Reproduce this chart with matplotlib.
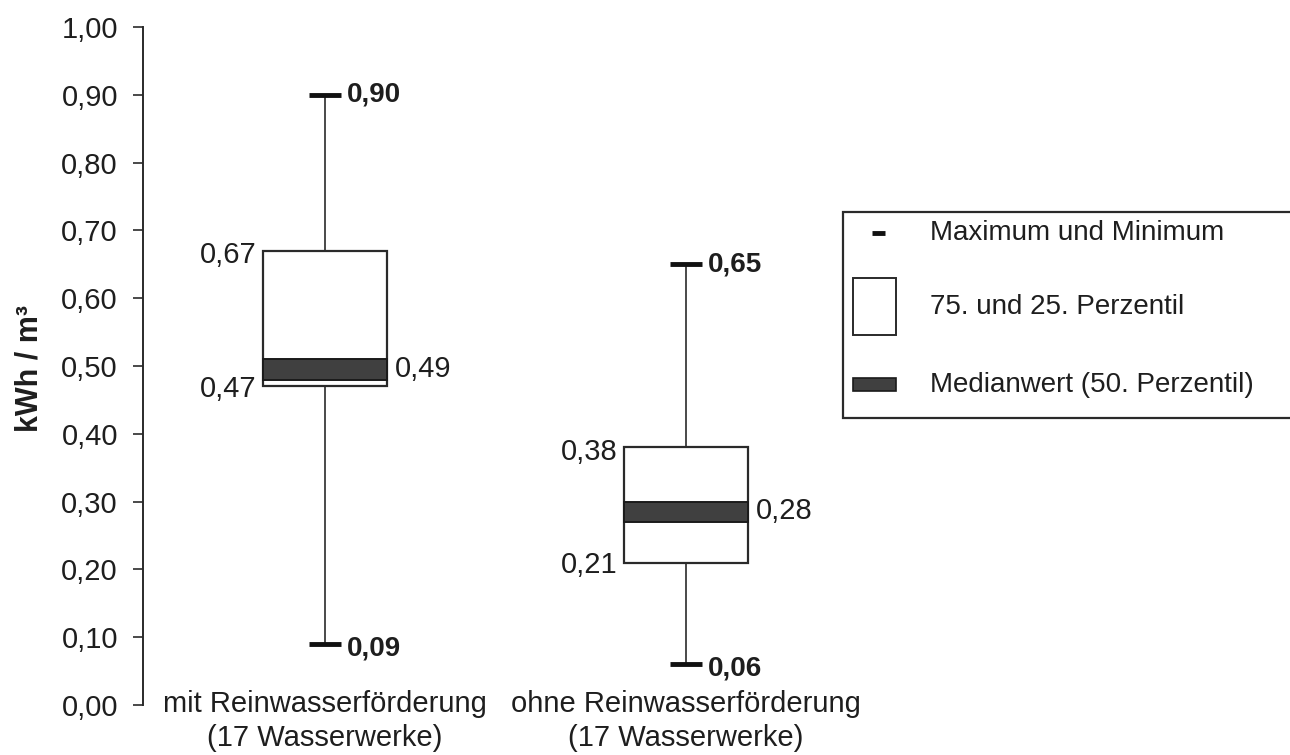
import numpy as np
import matplotlib
matplotlib.use("Agg")
import matplotlib.pyplot as plt
from matplotlib.patches import Rectangle
from matplotlib.lines import Line2D

plt.rcParams['font.family'] = ['Liberation Sans', 'DejaVu Sans']

# data (kWh / m3)
categories = ['mit Reinwasserförderung\n(17 Wasserwerke)',
              'ohne Reinwasserförderung\n(17 Wasserwerke)']
v_max = [0.90, 0.65]
v_q3 = [0.67, 0.38]
v_med = [0.49, 0.28]
v_q1 = [0.47, 0.21]
v_min = [0.09, 0.06]
y_ticks = [0.0, 0.1, 0.2, 0.3, 0.4, 0.5, 0.6, 0.7, 0.8, 0.9, 1.0]

W, H = 1290, 755
TXT = '#1e1e1e'
EDGE = '#2a2a2a'
FS = 21

def fmt(v):
	return f'{v:.2f}'.replace('.', ',')

fig = plt.figure(figsize=(W / 100, H / 100), dpi=100)
ax = fig.add_axes([143 / W, 50 / H, (1277 - 143) / W, (705 - 27) / H])

pos = np.arange(1, len(categories) + 1)
box_w = 0.343
cap_w = 0.089
band = 0.03

for i, x in enumerate(pos):
	# whiskers
	ax.plot([x, x], [v_q3[i], v_max[i]], color=EDGE, lw=1.2, zorder=1)
	ax.plot([x, x], [v_min[i], v_q1[i]], color=EDGE, lw=1.2, zorder=1)
	# caps
	ax.plot([x - cap_w / 2, x + cap_w / 2], [v_max[i]] * 2, color='#111111', lw=3.5, solid_capstyle='butt')
	ax.plot([x - cap_w / 2, x + cap_w / 2], [v_min[i]] * 2, color='#111111', lw=3.5, solid_capstyle='butt')
	# box
	ax.bar(x, v_q3[i] - v_q1[i], bottom=v_q1[i], width=box_w, color='white',
		edgecolor=EDGE, linewidth=1.6, zorder=2)
	# median band
	ax.bar(x, band, bottom=v_med[i] - band / 2 + 0.005, width=box_w, color='#404040',
		edgecolor='#1a1a1a', linewidth=1.4, zorder=3)

	# value labels
	ax.annotate(fmt(v_max[i]), (x + cap_w / 2, v_max[i]), xytext=(4, 0), textcoords='offset points',
		ha='left', va='center', fontsize=FS - 1, fontweight='bold', color=TXT)
	ax.annotate(fmt(v_min[i]), (x + cap_w / 2, v_min[i]), xytext=(4, -3), textcoords='offset points',
		ha='left', va='center', fontsize=FS - 1, fontweight='bold', color=TXT)
	ax.annotate(fmt(v_q3[i]), (x - box_w / 2, v_q3[i]), xytext=(-5, -3), textcoords='offset points',
		ha='right', va='center', fontsize=FS, color=TXT)
	ax.annotate(fmt(v_q1[i]), (x - box_w / 2, v_q1[i]), xytext=(-5, -2), textcoords='offset points',
		ha='right', va='center', fontsize=FS, color=TXT)
	ax.annotate(fmt(v_med[i]), (x + box_w / 2, v_med[i]), xytext=(6, 3), textcoords='offset points',
		ha='left', va='center', fontsize=FS, color=TXT)

# scale so category 1 sits at x=325px and category 2 at x=686px
ax.set_xlim(1 - (325 - 143) / 361, 2 + (1277 - 686) / 361)
ax.set_ylim(0, 1.0)

ax.set_yticks(y_ticks)
ax.set_yticklabels([fmt(v) for v in y_ticks])
ax.tick_params(axis='y', length=7, width=1.2, color=EDGE, pad=11, labelsize=FS, labelcolor=TXT)

ax.set_xticks(pos)
ax.set_xticklabels(categories, linespacing=1.3)
ax.tick_params(axis='x', length=0, pad=-11, labelsize=FS, labelcolor=TXT)

for s in ['top', 'right', 'bottom']:
	ax.spines[s].set_visible(False)
ax.spines['left'].set_color(EDGE)
ax.spines['left'].set_linewidth(1.4)

fig.text(30 / W, 1 - 369 / H, 'kWh / m³', rotation=90, ha='center', va='center',
	fontsize=22, fontweight='bold', color=TXT)

# legend drawn by hand in figure pixels
def fx(px):
	return px / W

def fy(py):
	return 1 - py / H

fig.add_artist(Rectangle((fx(843), fy(418)), fx(1300) - fx(843), fy(212) - fy(418),
	transform=fig.transFigure, facecolor='white', edgecolor=EDGE, linewidth=1.6))
fig.add_artist(Line2D([fx(872), fx(885)], [fy(233)] * 2, transform=fig.transFigure,
	color='#111111', lw=3.5, solid_capstyle='butt'))
fig.add_artist(Rectangle((fx(853), fy(335)), fx(896) - fx(853), fy(278) - fy(335),
	transform=fig.transFigure, facecolor='white', edgecolor=EDGE, linewidth=1.4))
fig.add_artist(Rectangle((fx(853), fy(391)), fx(896) - fx(853), fy(378) - fy(391),
	transform=fig.transFigure, facecolor='#404040', edgecolor='#1a1a1a', linewidth=1.2))
for label, py in [('Maximum und Minimum', 233), ('75. und 25. Perzentil', 307),
		('Medianwert (50. Perzentil)', 385)]:
	fig.text(fx(930), fy(py), label, ha='left', va='center', fontsize=FS - 1, color=TXT)

fig.savefig('out.png', dpi=100)
